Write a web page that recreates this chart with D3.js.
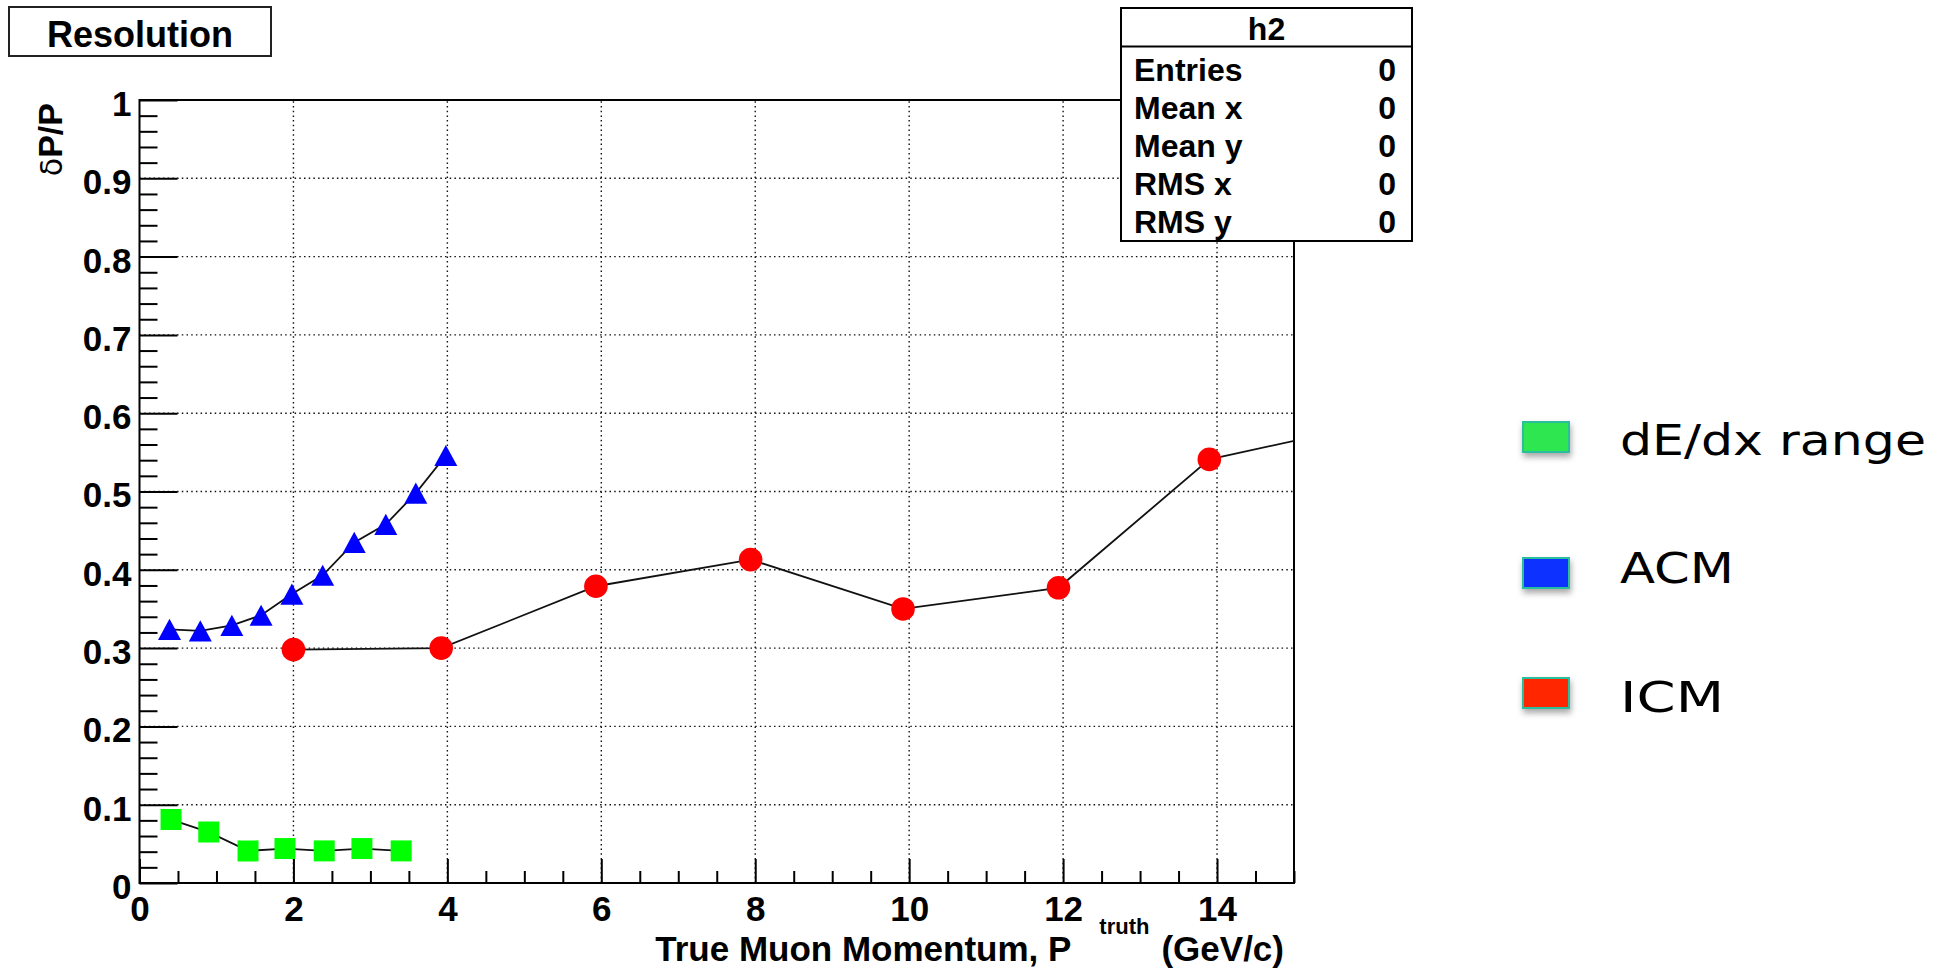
<!DOCTYPE html>
<html>
<head>
<meta charset="utf-8">
<script src="https://cdn.jsdelivr.net/npm/d3@7"></script>
<style>
  html, body { margin: 0; padding: 0; background: #fff; }
  svg { display: block; }
  .lab { font-family: "Liberation Sans", Arial, Helvetica, sans-serif; font-weight: bold; fill: #000; }
</style>
</head>
<body>
<svg id="chart" width="1946" height="969"></svg>
<script>
// ---------------- data ----------------
const xTickValues = [0, 2, 4, 6, 8, 10, 12, 14];
const xTickLabels = ["0", "2", "4", "6", "8", "10", "12", "14"];
const yTickValues = [0, 0.1, 0.2, 0.3, 0.4, 0.5, 0.6, 0.7, 0.8, 0.9, 1];
const yTickLabels = ["0", "0.1", "0.2", "0.3", "0.4", "0.5", "0.6", "0.7", "0.8", "0.9", "1"];

const dedxX = [0.41, 0.90, 1.41, 1.89, 2.40, 2.89, 3.40];
const dedxY = [0.081, 0.065, 0.041, 0.044, 0.041, 0.044, 0.041];

const acmX = [0.39, 0.79, 1.20, 1.58, 1.98, 2.38, 2.79, 3.20, 3.59, 3.98];
const acmY = [0.324, 0.322, 0.329, 0.342, 0.369, 0.393, 0.435, 0.458, 0.498, 0.546];

const icmX = [2.0, 3.92, 5.93, 7.94, 9.92, 11.94, 13.9, 15.9];
const icmY = [0.298, 0.300, 0.379, 0.413, 0.350, 0.377, 0.541, 0.584];

const legendNames = ["dE/dx range", "ACM", "ICM"];
const legendColors = ["#2ee650", "#0a33ff", "#ff2800"];

const statsTitle = "h2";
const statsNames = ["Entries", "Mean x", "Mean y", "RMS x", "RMS y"];
const statsValues = ["0", "0", "0", "0", "0"];

const plotTitle = "Resolution";

// ---------------- layout ----------------
const X0 = 139.5, X1 = 1294, Y0 = 883, Y1 = 100;
const svg = d3.select("#chart");
const x = d3.scaleLinear().domain([0, 15]).range([X0, X1]);
const y = d3.scaleLinear().domain([0, 1]).range([Y0, Y1]);

svg.append("rect").attr("width", 1946).attr("height", 969).attr("fill", "#fff");

const defs = svg.append("defs");
defs.append("clipPath").attr("id", "plotclip")
  .append("rect").attr("x", X0).attr("y", Y1).attr("width", X1 - X0).attr("height", Y0 - Y1);
const f = defs.append("filter").attr("id", "shadow").attr("x", "-30%").attr("y", "-30%").attr("width", "160%").attr("height", "180%");
f.append("feDropShadow").attr("dx", 1).attr("dy", 4).attr("stdDeviation", 3).attr("flood-color", "#000").attr("flood-opacity", 0.35);

// grid
const grid = svg.append("g").attr("stroke", "#111").attr("stroke-width", 1.4).attr("stroke-dasharray", "1.5,3.2");
grid.selectAll("line.gx").data(xTickValues.filter(v => v > 0)).join("line")
  .attr("x1", d => x(d)).attr("x2", d => x(d)).attr("y1", Y0).attr("y2", Y1);
grid.selectAll("line.gy").data(yTickValues.filter(v => v > 0 && v < 1)).join("line")
  .attr("x1", X0).attr("x2", X1).attr("y1", d => y(d)).attr("y2", d => y(d));

// axes: minor ticks
const xMinor = d3.range(0, 15.01, 0.5).filter(v => v % 2 !== 0);
svg.append("g").attr("transform", `translate(0,${Y0})`)
  .call(d3.axisBottom(x).tickValues(xMinor).tickSize(-12).tickFormat(""))
  .call(g => g.select(".domain").remove())
  .selectAll("line").attr("stroke", "#000").attr("stroke-width", 2);
const yMinor = d3.range(0, 1.001, 0.02).map(v => +v.toFixed(2)).filter(v => Math.round(v * 100) % 10 !== 0);
svg.append("g").attr("transform", `translate(${X0},0)`)
  .call(d3.axisLeft(y).tickValues(yMinor).tickSize(-18).tickFormat(""))
  .call(g => g.select(".domain").remove())
  .selectAll("line").attr("stroke", "#000").attr("stroke-width", 2);

// major axes with labels
const xAxis = svg.append("g").attr("transform", `translate(0,${Y0})`)
  .call(d3.axisBottom(x).tickValues(xTickValues).tickSize(-24).tickPadding(13)
    .tickFormat((d, i) => xTickLabels[i]));
xAxis.select(".domain").remove();
xAxis.selectAll("line").attr("stroke", "#000").attr("stroke-width", 2);
xAxis.selectAll("text").attr("class", "lab").attr("font-size", 35).attr("fill", "#000");

const yAxis = svg.append("g").attr("transform", `translate(${X0},0)`)
  .call(d3.axisLeft(y).tickValues(yTickValues).tickSize(-38).tickPadding(8)
    .tickFormat((d, i) => yTickLabels[i]));
yAxis.select(".domain").remove();
yAxis.selectAll("line").attr("stroke", "#000").attr("stroke-width", 2);
yAxis.selectAll("text").attr("class", "lab").attr("font-size", 35).attr("fill", "#000").attr("dy", "0.44em");

// frame
svg.append("rect").attr("x", X0).attr("y", Y1).attr("width", X1 - X0).attr("height", Y0 - Y1)
  .attr("fill", "none").attr("stroke", "#000").attr("stroke-width", 2);

// axis titles
const xt = svg.append("text").attr("class", "lab").attr("font-size", 35)
  .attr("x", X1 - 10).attr("y", 961).attr("text-anchor", "end");
xt.append("tspan").text("True Muon Momentum, P");
xt.append("tspan").attr("font-size", 22).attr("dx", 28).attr("dy", -27).text("truth");
xt.append("tspan").attr("dx", 12).attr("dy", 27).text("(GeV/c)");

const yt = svg.append("text").attr("class", "lab").attr("font-size", 34)
  .attr("transform", `translate(62,${Y1 + 3}) rotate(-90)`).attr("text-anchor", "end");
yt.append("tspan").attr("font-weight", "normal").attr("font-family", "DejaVu Sans, sans-serif").attr("font-size", 30).text("δ");
yt.append("tspan").text("P/P");

// series
const plot = svg.append("g").attr("clip-path", "url(#plotclip)");
const line = d3.line().x(d => x(d[0])).y(d => y(d[1]));
const triUp = {
  draw(ctx, size) {
    const w = Math.sqrt(size);          // size = w*w
    const h = w * 0.92;
    ctx.moveTo(0, -h / 2);
    ctx.lineTo(w / 2, h / 2);
    ctx.lineTo(-w / 2, h / 2);
    ctx.closePath();
  }
};
const series = [
  { xs: dedxX, ys: dedxY, color: "#00ff00", sym: d3.symbol().type(d3.symbolSquare).size(21 * 21) },
  { xs: acmX, ys: acmY, color: "#0000ff", sym: d3.symbol().type(triUp).size(23 * 23) },
  { xs: icmX, ys: icmY, color: "#ff0000", sym: d3.symbol().type(d3.symbolCircle).size(Math.PI * 11.8 * 11.8) }
];
series.forEach(s => {
  const pts = s.xs.map((v, i) => [v, s.ys[i]]);
  plot.append("path").datum(pts).attr("d", line).attr("fill", "none")
    .attr("stroke", "#111").attr("stroke-width", 1.8);
  plot.selectAll(null).data(pts).join("path")
    .attr("transform", d => `translate(${x(d[0])},${y(d[1])})`)
    .attr("d", s.sym()).attr("fill", s.color);
});

// title box
svg.append("rect").attr("x", 9).attr("y", 7).attr("width", 262).attr("height", 49)
  .attr("fill", "#fff").attr("stroke", "#222").attr("stroke-width", 2);
svg.append("text").attr("class", "lab").attr("font-size", 36).attr("x", 140).attr("y", 47)
  .attr("text-anchor", "middle").text(plotTitle);

// stats box
const sx = 1121, sw = 291, sy = 8, sh = 233;
svg.append("rect").attr("x", sx).attr("y", sy).attr("width", sw).attr("height", sh)
  .attr("fill", "#fff").attr("stroke", "#000").attr("stroke-width", 2);
svg.append("line").attr("x1", sx).attr("x2", sx + sw).attr("y1", 46.5).attr("y2", 46.5)
  .attr("stroke", "#000").attr("stroke-width", 2);
svg.append("text").attr("class", "lab").attr("font-size", 32).attr("x", sx + sw / 2).attr("y", 40)
  .attr("text-anchor", "middle").text(statsTitle);
statsNames.forEach((n, i) => {
  svg.append("text").attr("class", "lab").attr("font-size", 32).attr("x", 1134).attr("y", 81 + 38 * i).text(n);
  svg.append("text").attr("class", "lab").attr("font-size", 32).attr("x", 1396).attr("y", 81 + 38 * i)
    .attr("text-anchor", "end").text(statsValues[i]);
});

// legend
const legY = [422, 558, 678];
const legBase = [455, 583, 712];
const legW = [306, 114, 104];
legendNames.forEach((n, i) => {
  svg.append("rect").attr("x", 1523).attr("y", legY[i]).attr("width", 46).attr("height", 30)
    .attr("fill", legendColors[i]).attr("stroke", "#2cbf9c").attr("stroke-width", 2)
    .attr("filter", "url(#shadow)");
  svg.append("text").attr("x", 1620).attr("y", legBase[i])
    .attr("font-family", "DejaVu Sans, sans-serif").attr("font-size", 42).attr("fill", "#000")
    .attr("textLength", legW[i]).attr("lengthAdjust", "spacingAndGlyphs").text(n);
});
</script>
</body>
</html>
